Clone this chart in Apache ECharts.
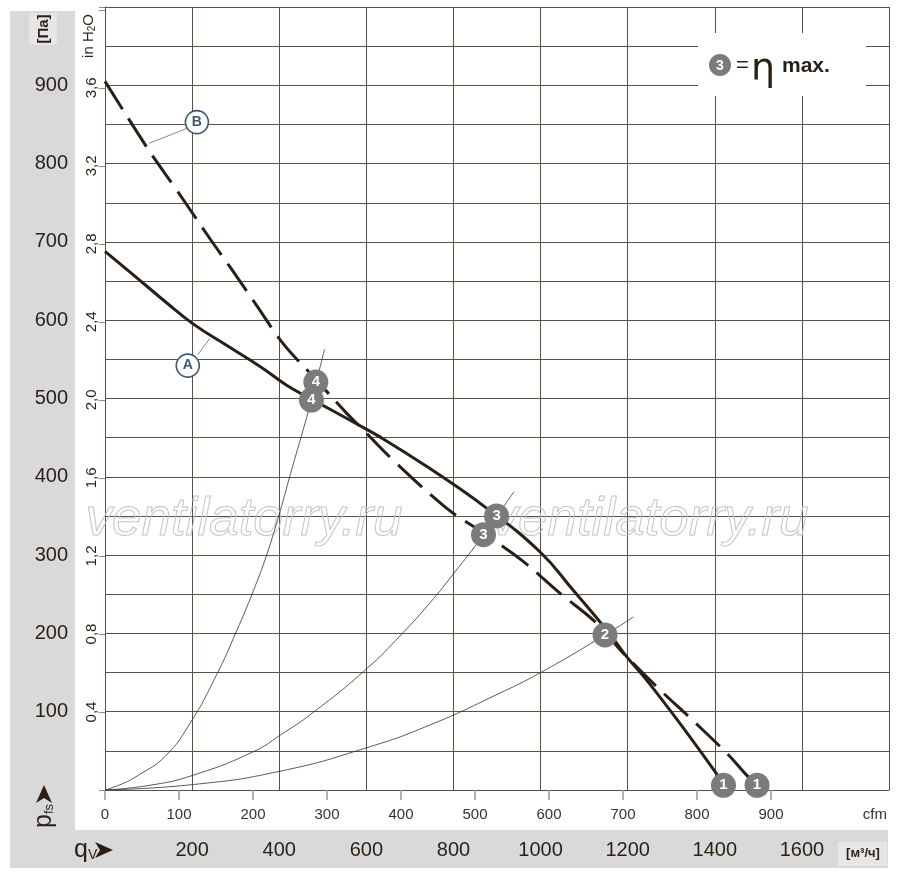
<!DOCTYPE html>
<html>
<head>
<meta charset="utf-8">
<script src="https://cdn.jsdelivr.net/npm/echarts@6/dist/echarts.min.js"></script>
<style>
  html, body { margin: 0; padding: 0; background: #fff; }
  #main { width: 900px; height: 881px; }
</style>
</head>
<body>
<div id="main"></div>
<script>
// values: [flow m3/h, pressure Pa]
const curveA = [[0, 688], [65, 658], [142, 622], [203, 595], [279, 568], [356, 541], [417, 517], [478, 498],
  [570, 470], [631, 451], [739, 413], [876, 360], [999, 304], [1075, 255], [1152, 204], [1198, 170],
  [1244, 140], [1320, 85], [1410, 16]];
const curveB = [[0, 905], [103, 815], [165, 766], [241, 704], [287, 668], [348, 619], [409, 570], [478, 528],
  [555, 481], [586, 464], [662, 421], [784, 360], [869, 328], [960, 292], [1045, 251], [1121, 217],
  [1167, 189], [1198, 170], [1274, 128], [1355, 86], [1431, 45], [1473, 19], [1490, 10]];
// system (efficiency) curves
const sys4 = [[0, 0], [40, 8], [77, 19], [138, 43], [195, 85], [256, 147], [302, 203], [341, 255],
  [371, 300], [402, 356], [425, 402], [474, 498], [504, 563]];
const sys3 = [[0, 0], [103, 6], [203, 19], [341, 49], [402, 70], [478, 99], [601, 155], [681, 199],
  [746, 239], [800, 276], [869, 326], [939, 381]];
const sys2 = [[0, 0], [203, 7], [402, 24], [601, 54], [746, 83], [900, 122], [1000, 150],
  [1148, 198], [1213, 221]];
// numbered operating points [flow, pressure, number]
const pointsA = [[474, 498, "4"], [899, 350, "3"], [1148, 198, "2"], [1420, 6, "1"]];
const pointsB = [[484, 521, "4"], [869, 326, "3"], [1497, 6, "1"]];
// curve name tags and their leader lines
const tags = [[190, 542, "A"], [211, 853, "B"]];
const leaderA = [[213, 556], [241, 577]];
const leaderB = [[188, 845], [102, 826]];
// axes
const flowMax = 1800;
const pressMax = 1000;
const cfmPerM3h = 1 / 1.699;
const inH2OPerPa = 1 / 249.089;
const cfmTicks = [0, 100, 200, 300, 400, 500, 600, 700, 800, 900];

const ink = "#2a1f16";
const gridCol = "#5a5046";
const font = "'Liberation Sans', Arial, sans-serif";

const chart = echarts.init(document.getElementById("main"));

function thin(data) {
  return {
    type: "line", data: data, smooth: 0.5, symbol: "none", silent: true,
    lineStyle: { color: "#3a3028", width: 0.8 }, z: 2
  };
}

const option = {
  backgroundColor: "#fff",
  animation: false,
  grid: { left: 105, right: 11, top: 7, bottom: 91 },
  xAxis: [
    {
      type: "value", min: 0, max: flowMax, interval: 200,
      axisLine: { show: true, lineStyle: { color: gridCol, width: 1 } },
      axisTick: { show: false },
      splitLine: { show: true, lineStyle: { color: gridCol, width: 1 } },
      axisLabel: {
        margin: 50, fontSize: 20, color: ink, fontFamily: font,
        formatter: v => (v === 0 || v === flowMax) ? "" : String(v)
      }
    },
    {
      type: "value", min: 0, max: flowMax * cfmPerM3h, position: "bottom",
      axisLine: { show: false },
      axisTick: { show: true, length: 10, lineStyle: { color: "#9a9a9a", width: 1.5 }, customValues: cfmTicks },
      splitLine: { show: false },
      axisLabel: {
        margin: 17, fontSize: 15, color: "#333", fontFamily: font, customValues: cfmTicks,
        formatter: v => v < 1000 ? String(v) : ""
      }
    }
  ],
  yAxis: [
    {
      type: "value", min: 0, max: pressMax, interval: 50,
      axisLine: { show: true, lineStyle: { color: gridCol, width: 1 } },
      axisTick: { show: false },
      splitLine: { show: true, lineStyle: { color: gridCol, width: 1 } },
      axisLabel: {
        margin: 37, fontSize: 20, color: ink, fontFamily: font,
        formatter: v => (v % 100 === 0 && v > 0 && v < pressMax) ? String(v) : ""
      }
    },
    {
      type: "value", min: 0, max: pressMax * inH2OPerPa, interval: 0.4, position: "left",
      axisLine: { show: false },
      axisTick: { show: true, length: 6, lineStyle: { color: "#8a8a8a" } },
      splitLine: { show: false },
      axisLabel: {
        margin: 6, fontSize: 15, color: ink, fontFamily: font, rotate: 90,
        formatter: v => (v > 0.1 && v < 3.9) ? v.toFixed(1).replace(".", ",") : ""
      }
    }
  ],
  series: [
    thin(sys4), thin(sys3), thin(sys2),
    {
      type: "line", data: leaderA, symbol: "none", silent: true,
      lineStyle: { color: "#6a6a6a", width: 0.8 }, z: 2
    },
    {
      type: "line", data: leaderB, symbol: "none", silent: true,
      lineStyle: { color: "#6a6a6a", width: 0.8 }, z: 2
    },
    {
      name: "A", type: "line", data: curveA, smooth: 0.45, symbol: "none",
      lineStyle: { color: ink, width: 3 }, z: 3
    },
    {
      name: "B", type: "line", data: curveB, smooth: 0.35, symbol: "none",
      lineStyle: { color: ink, width: 3, type: [33, 11] }, z: 3
    },
    {
      type: "scatter", data: pointsA.concat(pointsB), symbolSize: 25, z: 5,
      itemStyle: { color: "#7b7b7b", opacity: 1 },
      label: {
        show: true, position: "inside", formatter: p => p.data[2],
        color: "#fff", fontWeight: "bold", fontSize: 15, fontFamily: font
      }
    },
    {
      type: "scatter", data: tags, symbolSize: 23, z: 5,
      itemStyle: { color: "#fff", borderColor: "#3e5670", borderWidth: 1.6, opacity: 1 },
      label: {
        show: true, position: "inside", formatter: p => p.data[2],
        color: "#3e5670", fontWeight: "bold", fontSize: 14, fontFamily: font
      }
    }
  ],
  graphic: [
    // gray bands
    { type: "rect", z: -100, shape: { x: 10, y: 11, width: 65, height: 819 }, style: { fill: "#d9d9d9" } },
    { type: "rect", z: -100, shape: { x: 10, y: 830, width: 878, height: 38 }, style: { fill: "#d9d9d9" } },
    { type: "rect", z: -90, shape: { x: 29, y: 13, width: 28, height: 32 }, style: { fill: "#e6e6e6" } },
    { type: "rect", z: -90, shape: { x: 838, y: 842, width: 49, height: 24 }, style: { fill: "#e6e6e6" } },
    {
      type: "text", x: 44, y: 29, rotation: Math.PI / 2, z: 10,
      style: { text: "[Па]", font: "bold 15px " + font, fill: ink, textAlign: "center", textVerticalAlign: "middle" }
    },
    {
      type: "text", x: 89, y: 36, rotation: Math.PI / 2, z: 10,
      style: {
        text: "{a|in H}{s|2}{a|O}", textAlign: "center", textVerticalAlign: "middle",
        rich: {
          a: { fontSize: 15, fontFamily: font, fill: ink },
          s: { fontSize: 10, fontFamily: font, fill: ink, verticalAlign: "bottom", padding: [6, 0, 0, 0] }
        }
      }
    },
    // p_fs label with arrow
    {
      type: "text", x: 44, y: 816, rotation: Math.PI / 2, z: 10,
      style: {
        text: "{p|p}{s|fs}", textAlign: "center", textVerticalAlign: "middle",
        rich: {
          p: { fontSize: 25, fontFamily: font, fill: ink },
          s: { fontSize: 13, fontFamily: font, fill: ink, padding: [10, 0, 0, 0] }
        }
      }
    },
    {
      type: "polygon", z: 10,
      shape: { points: [[44, 785], [52, 803], [44, 798], [36, 803]] }, style: { fill: ink }
    },
    // q_V label with arrow
    {
      type: "text", x: 74, y: 850, z: 10,
      style: {
        text: "{q|q}{s|V}", textAlign: "left", textVerticalAlign: "middle",
        rich: {
          q: { fontSize: 25, fontFamily: font, fill: ink },
          s: { fontSize: 14, fontFamily: font, fill: ink, padding: [10, 0, 0, 0] }
        }
      }
    },
    {
      type: "polygon", z: 10,
      shape: { points: [[113, 850], [95, 842], [100, 850], [95, 858]] }, style: { fill: ink }
    },
    {
      type: "text", x: 863, y: 853, z: 10,
      style: { text: "[м³/ч]", font: "bold 13px " + font, fill: ink, textAlign: "center", textVerticalAlign: "middle" }
    },
    {
      type: "text", x: 887, y: 815, z: 10,
      style: { text: "cfm", font: "15px " + font, fill: "#333", textAlign: "right", textVerticalAlign: "middle" }
    },
    // eta max legend
    { type: "rect", z: 20, shape: { x: 698, y: 33, width: 168, height: 63 }, style: { fill: "#fff" } },
    { type: "circle", z: 21, shape: { cx: 720, cy: 65, r: 11 }, style: { fill: "#7b7b7b" } },
    {
      type: "text", x: 720, y: 66, z: 22,
      style: { text: "3", font: "bold 14px " + font, fill: "#fff", textAlign: "center", textVerticalAlign: "middle" }
    },
    {
      type: "text", x: 736, y: 66, z: 22,
      style: { text: "=", font: "22px " + font, fill: ink, textAlign: "left", textVerticalAlign: "middle" }
    },
    {
      type: "text", x: 751, y: 70, z: 22,
      style: { text: "η", font: "38px 'DejaVu Sans', sans-serif", fill: ink, textAlign: "left", textVerticalAlign: "middle" }
    },
    {
      type: "text", x: 782, y: 66, z: 22,
      style: { text: "max.", font: "bold 21px " + font, fill: ink, textAlign: "left", textVerticalAlign: "middle" }
    },
    // watermark
    {
      type: "text", x: 244, y: 520, z: 1, silent: true,
      style: {
        text: "ventilatorry.ru", font: "italic 53px 'Liberation Sans', sans-serif",
        fill: "rgba(255,255,255,0)", stroke: "#c4c4c4", lineWidth: 1, textAlign: "center", textVerticalAlign: "middle"
      }
    },
    {
      type: "text", x: 650, y: 520, z: 1, silent: true,
      style: {
        text: "ventilatorry.ru", font: "italic 53px 'Liberation Sans', sans-serif",
        fill: "rgba(255,255,255,0)", stroke: "#c4c4c4", lineWidth: 1, textAlign: "center", textVerticalAlign: "middle"
      }
    }
  ]
};

chart.setOption(option);
</script>
</body>
</html>
